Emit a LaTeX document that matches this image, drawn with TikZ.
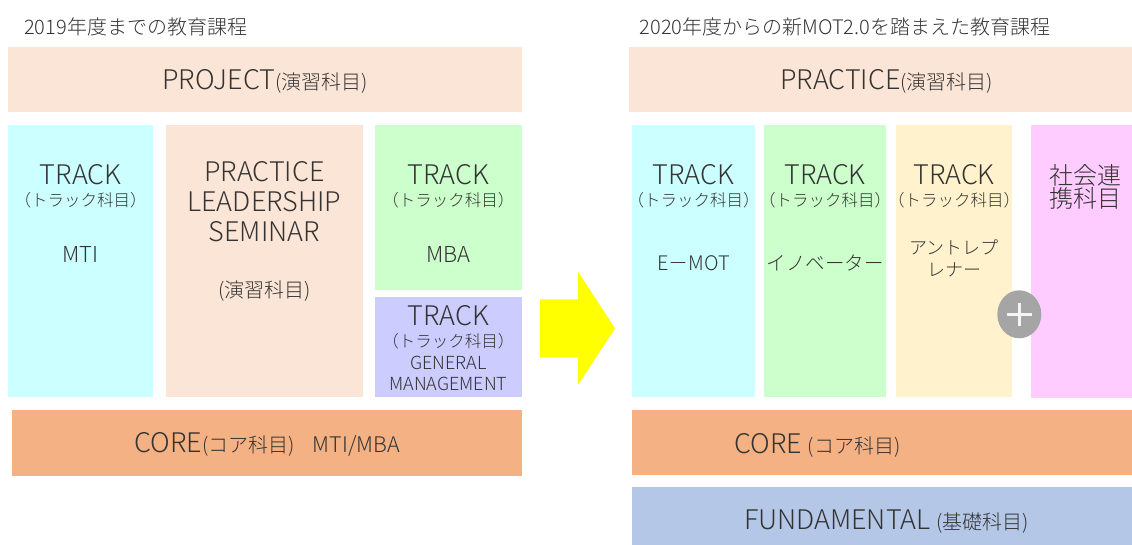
\documentclass[tikz,border=0pt]{standalone}
\usepackage{fontspec}
\setmainfont{Noto Sans CJK JP Light}
\definecolor{peach}{HTML}{FBE5D6}
\definecolor{cyanbox}{HTML}{CCFFFF}
\definecolor{greenbox}{HTML}{CCFFCC}
\definecolor{lavbox}{HTML}{CCCCFF}
\definecolor{corebox}{HTML}{F4B183}
\definecolor{creambox}{HTML}{FFF2CC}
\definecolor{pinkbox}{HTML}{FFCCFF}
\definecolor{fundbox}{HTML}{B4C7E7}
\definecolor{arrowc}{HTML}{FFFF00}
\definecolor{plusc}{HTML}{A5A5A5}
\definecolor{txtc}{HTML}{333333}
\newcommand{\fsz}[1]{\fontsize{#1}{#1}\selectfont}
\begin{document}
\begin{tikzpicture}[x=1pt,y=-1pt,
  txt/.style={inner sep=0pt, anchor=base, text=txtc},
  txtw/.style={inner sep=0pt, anchor=base west, text=txtc},
  big/.style={font=\fsz{27}},
  title/.style={font=\fsz{20}},
  sub/.style={font=\fsz{16.5}},
  mid/.style={font=\fsz{22}}]
\useasboundingbox (0,0) rectangle (1132,545);
% ---------- left boxes
\fill[peach] (8,46.7) rectangle (521.7,112.3);
\fill[cyanbox] (8.3,125) rectangle (153,396.7);
\fill[peach] (166,125) rectangle (362.6,396.7);
\fill[greenbox] (375,125) rectangle (521.7,290);
\fill[lavbox] (375,296.7) rectangle (521.7,396.7);
\fill[corebox] (11.7,409.5) rectangle (521.7,475.5);
% ---------- arrow
\fill[arrowc] (540,299.3) -- (578,299.3) -- (578,271.7) -- (615,328.3)
  -- (578,385) -- (578,357.3) -- (540,357.3) -- cycle;
% ---------- right boxes
\fill[peach] (629.3,46.7) rectangle (1132,112.3);
\fill[cyanbox] (632.3,125) rectangle (754.6,396.7);
\fill[greenbox] (764.2,125) rectangle (885.9,396.7);
\fill[creambox] (895.8,125) rectangle (1012.3,396.7);
\fill[pinkbox] (1031,125) rectangle (1132,397.7);
\fill[corebox] (632.3,410) rectangle (1132,475);
\fill[fundbox] (632.3,486.7) rectangle (1132,545);
% plus circle
\fill[plusc] (1019.3,314.3) ellipse [x radius=22, y radius=24];
\draw[white!88!plusc, line width=2.6pt] (1007,314.3) -- (1031.6,314.3);
\draw[white!88!plusc, line width=2.6pt] (1019.3,302.5) -- (1019.3,326);
% ---------- left texts
\node[txtw, title] (t1) at (24,35) {2019年度までの教育課程};
\node[txt, big] (proj) at (265,89.7) {PROJECT{\fsz{20}(演習科目)}};
\node[txt, big] (mtiA) at (80.7,185) {TRACK};
\node[txt, sub] (mtiB) at (80.7,206.9) {（トラック科目）};
\node[txt, mid] (mtiC) at (80.7,262.8) {MTI};
\node[txt, big] (plsA) at (264.3,181.7) {PRACTICE};
\node[txt, big] (plsB) at (264.3,211.5) {LEADERSHIP};
\node[txt, big] (plsC) at (264.3,242) {SEMINAR};
\node[txt, font=\fsz{20}] (plsD) at (264.3,297.2) {(演習科目)};
\node[txt, big] (mbaA) at (448.4,185) {TRACK};
\node[txt, sub] (mbaB) at (448.4,206.9) {（トラック科目）};
\node[txt, mid] (mbaC) at (448.4,262.8) {MBA};
\node[txt, big] (gmA) at (448.4,325.3) {TRACK};
\node[txt, sub] (gmB) at (448.4,347.3) {（トラック科目）};
\node[txt, font=\fsz{18}] (gmC) at (448.4,369.1) {GENERAL};
\node[txt, font=\fsz{18}] (gmD) at (448.4,390) {MANAGEMENT};
\node[txt, big] (coreL) at (267.4,452.9) {CORE{\fsz{20}(コア科目)}\hspace{18pt}{\fsz{21.5}MTI/MBA}};
% ---------- right texts
\node[txtw, title] (t2) at (639.4,35) {2020年度からの新MOT2.0を踏まえた教育課程};
\node[txt, big] (prac) at (886.6,89.7) {PRACTICE{\fsz{20}(演習科目)}};
\node[txt, big] (emA) at (693.5,185) {TRACK};
\node[txt, sub] (emB) at (693.5,206.9) {（トラック科目）};
\node[txt, font=\fsz{20}] (emC) at (693.5,271) {E－MOT};
\node[txt, big] (inA) at (825,185) {TRACK};
\node[txt, sub] (inB) at (825,206.9) {（トラック科目）};
\node[txt, font=\fsz{19.5}] (inC) at (825,271) {イノベーター};
\node[txt, big] (enA) at (954,185) {TRACK};
\node[txt, sub] (enB) at (954,206.9) {（トラック科目）};
\node[txt, font=\fsz{18}] (enC) at (954,254.8) {アントレプ};
\node[txt, font=\fsz{18}] (enD) at (954,276.4) {レナー};
\node[txtw, font=\fsz{24}] (scA) at (1049,184.1) {社会連};
\node[txtw, font=\fsz{24}] (scB) at (1049,207.4) {携科目};
\node[txtw, big] (coreR) at (734,453.2) {CORE {\fsz{20}(コア科目)}};
\node[txt, big] (fund) at (886.6,529) {FUNDAMENTAL {\fsz{20}(基礎科目)}};
\end{tikzpicture}
\end{document}
